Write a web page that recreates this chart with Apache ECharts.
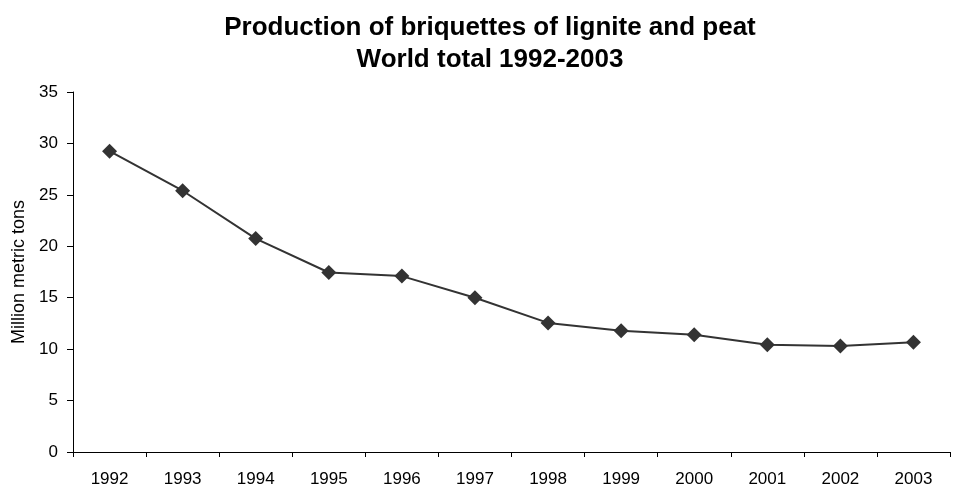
<!DOCTYPE html>
<html>
<head>
<meta charset="utf-8">
<script src="https://cdn.jsdelivr.net/npm/echarts@6/dist/echarts.min.js"></script>
<style>
  html, body { margin: 0; padding: 0; background: #fff; }
  #chart { width: 961px; height: 488px; }
</style>
</head>
<body>
<div id="chart"></div>
<script>
// years on the x axis
const years = ['1992', '1993', '1994', '1995', '1996', '1997', '1998', '1999', '2000', '2001', '2002', '2003']
// world production, million metric tons
const production = [29.25, 25.4, 20.75, 17.45, 17.1, 15.0, 12.55, 11.78, 11.4, 10.42, 10.3, 10.68]

const chart = echarts.init(document.getElementById('chart'))
chart.setOption({
  animation: false,
  title: {
    text: 'Production of briquettes of lignite and peat\nWorld total 1992-2003',
    left: 485,
    textAlign: 'center',
    top: 7,
    textStyle: {
      fontFamily: 'Liberation Sans, Arial, sans-serif',
      fontSize: 26,
      fontWeight: 'bold',
      color: '#000',
      lineHeight: 32
    }
  },
  grid: { left: 73, right: 11, top: 92, bottom: 36 },
  xAxis: {
    type: 'category',
    data: years,
    boundaryGap: true,
    axisLine: { lineStyle: { color: '#000', width: 1 } },
    axisTick: { show: true, length: 5, lineStyle: { color: '#000' } },
    axisLabel: {
      color: '#000',
      fontFamily: 'Liberation Sans, Arial, sans-serif',
      fontSize: 17,
      margin: 19
    }
  },
  yAxis: {
    type: 'value',
    min: 0,
    max: 35,
    interval: 5,
    name: 'Million metric tons',
    nameLocation: 'middle',
    nameGap: 44,
    nameTextStyle: {
      color: '#000',
      fontFamily: 'Liberation Sans, Arial, sans-serif',
      fontSize: 18
    },
    splitLine: { show: false },
    axisLine: { show: true, lineStyle: { color: '#000', width: 1 } },
    axisTick: { show: true, length: 6, lineStyle: { color: '#000' } },
    axisLabel: {
      color: '#000',
      fontFamily: 'Liberation Sans, Arial, sans-serif',
      fontSize: 17,
      margin: 15
    }
  },
  series: [
    {
      type: 'line',
      data: production,
      symbol: 'diamond',
      symbolSize: 15,
      lineStyle: { color: '#333', width: 2 },
      itemStyle: { color: '#333' }
    }
  ]
})
</script>
</body>
</html>
